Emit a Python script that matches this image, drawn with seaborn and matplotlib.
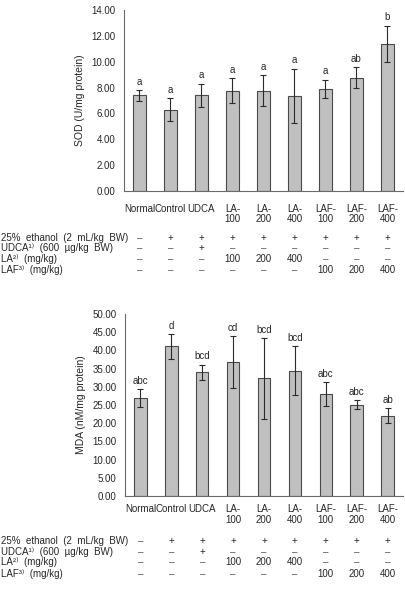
import numpy as np
import pandas as pd
import seaborn as sns
import matplotlib
matplotlib.use("Agg")
import matplotlib.pyplot as plt
from matplotlib.transforms import blended_transform_factory

categories = ["Normal", "Control", "UDCA", "LA-\n100", "LA-\n200", "LA-\n400",
              "LAF-\n100", "LAF-\n200", "LAF-\n400"]
sod_mean = [7.40, 6.29, 7.40, 7.76, 7.76, 7.35, 7.89, 8.76, 11.37]
sod_err = [0.40, 0.87, 0.88, 0.98, 1.20, 2.10, 0.70, 0.80, 1.40]
sod_letters = ["a", "a", "a", "a", "a", "a", "a", "ab", "b"]
mda_mean = [26.9, 41.1, 34.0, 36.8, 32.3, 34.4, 28.0, 25.1, 22.1]
mda_err = [2.4, 3.35, 2.1, 7.1, 11.1, 6.7, 3.25, 1.25, 2.0]
mda_letters = ["abc", "d", "bcd", "cd", "bcd", "bcd", "abc", "abc", "ab"]

row_labels = ["25%  ethanol  (2  mL/kg  BW)", "UDCA¹⁾  (600  µg/kg  BW)",
              "LA²⁾  (mg/kg)", "LAF³⁾  (mg/kg)"]
row_ethanol = ["–", "+", "+", "+", "+", "+", "+", "+", "+"]
row_udca = ["–", "–", "+", "–", "–", "–", "–", "–", "–"]
row_la = ["–", "–", "–", "100", "200", "400", "–", "–", "–"]
row_laf = ["–", "–", "–", "–", "–", "–", "100", "200", "400"]
rows = [row_ethanol, row_udca, row_la, row_laf]

sns.set_style("white")
plt.rcParams["font.family"] = ["Liberation Sans", "DejaVu Sans"]

W, H = 406, 589
fig = plt.figure(figsize=(W / 100, H / 100), dpi=100)

txt_col = "#262626"


def make_panel(rect, means, errs, letters, ylim, yticks, ylabel, label_pad, row_y):
    ax = fig.add_axes(rect)
    df = pd.DataFrame({"group": categories, "value": means})
    sns.barplot(data=df, x="group", y="value", ax=ax, color="#c0c0c0",
                edgecolor="#4a4a4a", linewidth=0.8, width=0.4, errorbar=None,
                saturation=1)
    xs = np.arange(len(categories))
    ax.errorbar(xs, means, yerr=errs, fmt="none", ecolor="#2a2a2a",
                elinewidth=0.8, capsize=2, capthick=0.8)
    for x, m, e, l in zip(xs, means, errs, letters):
        ax.annotate(l, (x, m + e), xytext=(0, 2.5), textcoords="offset points",
                    ha="center", va="bottom", fontsize=7, color=txt_col)
    ax.set_xlim(-0.5, len(categories) - 0.5)
    ax.set_ylim(*ylim)
    ax.set_yticks(yticks)
    ax.set_yticklabels([f"{v:.2f}" for v in yticks], fontsize=7, color=txt_col)
    ax.set_xticks(np.arange(-0.5, len(categories), 1.0))
    ax.set_xticklabels([])
    ax.set_xticks(xs, minor=True)
    ax.set_xticklabels(categories, minor=True, fontsize=7, color=txt_col,
                       linespacing=1.05)
    ax.tick_params(axis="x", which="minor", length=0, pad=label_pad)
    ax.tick_params(axis="x", which="major", length=3, width=0.8,
                   color="#6a6a6a", direction="out")
    ax.tick_params(axis="y", length=3, width=0.8, color="#6a6a6a",
                   direction="out", pad=3)
    ax.set_xlabel("")
    ax.set_ylabel(ylabel, fontsize=7.5, color=txt_col, labelpad=5)
    for s in ["top", "right"]:
        ax.spines[s].set_visible(False)
    for s in ["left", "bottom"]:
        ax.spines[s].set_color("#6a6a6a")
        ax.spines[s].set_linewidth(0.8)
    tr = blended_transform_factory(ax.transData, fig.transFigure)
    for lab, vals, ypx in zip(row_labels, rows, row_y):
        yf = 1 - ypx / H
        fig.text(1 / W, yf, lab, fontsize=7, color=txt_col, va="center", ha="left")
        for x, v in zip(xs, vals):
            ax.text(x, yf, v, transform=tr, fontsize=7, va="center", ha="center",
                    color="#555555" if v == "–" else txt_col)
    return ax


top_rect = [124 / W, 1 - 191 / H, (403 - 124) / W, (191 - 10) / H]
bot_rect = [125 / W, 1 - 496 / H, (403 - 125) / W, (496 - 314) / H]

make_panel(top_rect, sod_mean, sod_err, sod_letters, (0, 14),
           np.arange(0, 14.01, 2), "SOD (U/mg protein)", 9,
           [238, 248, 259, 270])
make_panel(bot_rect, mda_mean, mda_err, mda_letters, (0, 50),
           np.arange(0, 50.01, 5), "MDA (nM/mg protein)", 6,
           [541, 552, 562, 574])

fig.savefig("out.png", dpi=100)
